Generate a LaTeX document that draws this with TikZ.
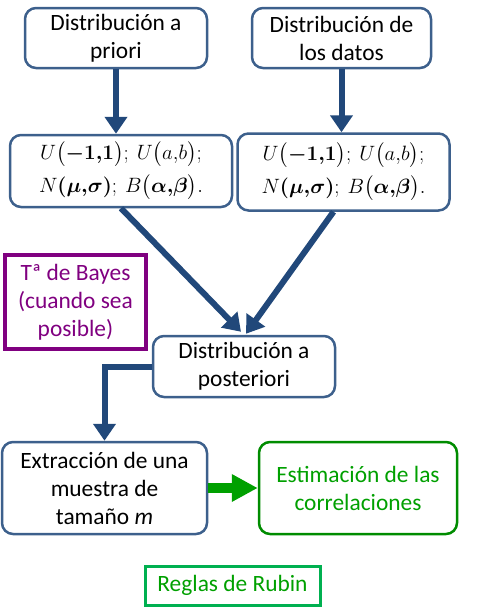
\documentclass[tikz,border=0pt]{standalone}
\usepackage{fontspec}
\setmainfont{Carlito}
\usepackage{amsmath}
\usetikzlibrary{arrows.meta,calc}
\definecolor{boxblue}{RGB}{61,96,140}
\definecolor{arrblue}{RGB}{33,72,122}
\definecolor{bayespurple}{RGB}{128,0,128}
\definecolor{estgreen}{RGB}{0,140,0}
\definecolor{esttext}{RGB}{0,160,0}
\definecolor{rubingreen}{RGB}{0,176,80}
\tikzset{
  bluebox/.style={draw=boxblue, line width=2.5pt, rounded corners=11pt, fill=white,
    align=center, inner sep=0pt, font=\fontsize{23.4}{28}\selectfont},
  mathbox/.style={bluebox, font=\fontsize{20}{33}\selectfont},
  bluearrow/.style={draw=arrblue, line width=6pt, -{Triangle[length=17pt,width=22pt]}},
  greenarrow/.style={draw=esttext, line width=10pt, -{Triangle[length=26pt,width=26pt]}},
}
\begin{document}
\begin{tikzpicture}[x=1pt,y=-1pt]
\useasboundingbox (0,0) rectangle (491,608);
\node[bluebox, minimum width=182pt, minimum height=60pt] (prior) at (116,38) {Distribución a\\priori};
\node[bluebox, minimum width=179pt, minimum height=60pt] (datos) at (341.5,38) {Distribución de\\los datos};
\node[mathbox, minimum width=222pt, minimum height=72pt] (dist1) at (121,171)
  {$U\bigl(\boldsymbol{-1{,}1}\bigr);\ U\bigl(a{,}b\bigr);$\\$N\boldsymbol{(\mu{,}\sigma)};\ B\bigl(\boldsymbol{\alpha{,}\beta}\bigr).$};
\node[mathbox, minimum width=212pt, minimum height=77pt] (dist2) at (343.5,172)
  {$U\bigl(\boldsymbol{-1{,}1}\bigr);\ U\bigl(a{,}b\bigr);$\\$N\boldsymbol{(\mu{,}\sigma)};\ B\bigl(\boldsymbol{\alpha{,}\beta}\bigr).$};
\node[draw=bayespurple, line width=4pt, minimum width=141pt, minimum height=94pt, inner sep=0pt,
  align=center, text=bayespurple, font=\fontsize{23.4}{28}\selectfont] (bayes) at (75.5,302)
  {Tª de Bayes\\(cuando sea\\posible)};
\node[bluebox, minimum width=182pt, minimum height=61pt] (post) at (244,366.5) {Distribución a\\posteriori};
\node[bluebox, minimum width=205pt, minimum height=92pt] (muestra) at (104.5,488)
  {Extracción de una\\muestra de\\tamaño \textit{m}};
\node[bluebox, draw=estgreen, text=esttext, minimum width=198pt, minimum height=92pt] (estim) at (358,488)
  {Estimación de las\\correlaciones};
\node[draw=rubingreen, line width=3pt, minimum width=175pt, minimum height=39pt, inner sep=0pt,
  text=esttext, font=\fontsize{23.4}{28}\selectfont] (rubin) at (232.5,585.5) {Reglas de Rubin};
\draw[bluearrow] (prior.south) -- (prior.south |- dist1.north);
\draw[bluearrow] (datos.south) -- (datos.south |- dist2.north);
\draw[bluearrow] (dist1.south) -- ([xshift=-3pt,yshift=3pt]post.north);
\draw[bluearrow] ([xshift=-10pt]dist2.south) -- ([xshift=2pt,yshift=1pt]post.north);
\draw[bluearrow] (post.west) -| (muestra.north);
\draw[greenarrow] (muestra.east) -- (estim.west);
\end{tikzpicture}
\end{document}
